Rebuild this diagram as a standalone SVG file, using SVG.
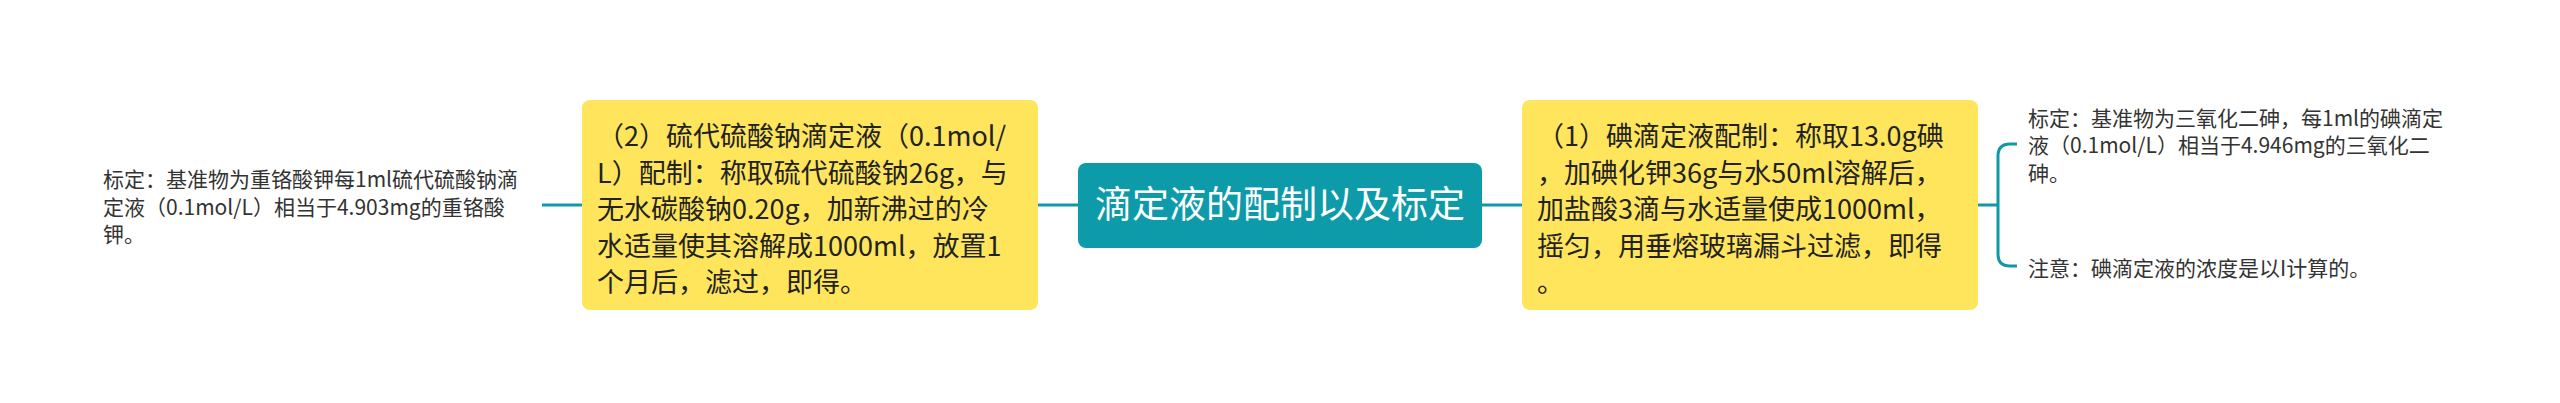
<svg xmlns="http://www.w3.org/2000/svg" width="2560" height="403" viewBox="0 0 2560 403">
<style>
.box{fill:#fee55c}
.root{fill:#0d9ba9}
.bt{font-family:"Noto Sans CJK SC","Microsoft YaHei",sans-serif;font-size:27px;fill:#222}
.st{font-family:"Noto Sans CJK SC","Microsoft YaHei",sans-serif;font-size:21px;fill:#333}
.rt{font-family:"Noto Sans CJK SC","Microsoft YaHei",sans-serif;font-size:37px;fill:#ffffff}
.ln{fill:none;stroke:#1297a7;stroke-width:3}
</style>
<rect width="2560" height="403" fill="#ffffff"/>
<g id="connectors">
<path class="ln" d="M542,205 H582"/>
<path class="ln" d="M1038,205 H1078"/>
<path class="ln" d="M1482,205 H1522"/>
<path class="ln" d="M1978,205 H1998"/>
<path class="ln" d="M2017,144 H2010 Q1998,144 1998,156 V254 Q1998,266 2010,266 H2017"/>
</g>
<g id="root">
<rect class="root" x="1078" y="163" width="404" height="85" rx="8"/>
<text class="rt" x="1280" y="218" text-anchor="middle">滴定液的配制以及标定</text>
</g>
<g id="node-left">
<rect class="box" x="582" y="100" width="456" height="210" rx="8"/>
<text class="bt"><tspan x="597" y="146">（2）硫代硫酸钠滴定液（0.1mol/</tspan><tspan x="597" y="182.5">L）配制：称取硫代硫酸钠26g，与</tspan><tspan x="597" y="219">无水碳酸钠0.20g，加新沸过的冷</tspan><tspan x="597" y="255.5">水适量使其溶解成1000ml，放置1</tspan><tspan x="597" y="292">个月后，滤过，即得。</tspan></text>
</g>
<g id="node-right">
<rect class="box" x="1522" y="100" width="456" height="210" rx="8"/>
<text class="bt"><tspan x="1537" y="146">（1）碘滴定液配制：称取13.0g碘</tspan><tspan x="1537" y="182.5">，加碘化钾36g与水50ml溶解后，</tspan><tspan x="1537" y="219">加盐酸3滴与水适量使成1000ml，</tspan><tspan x="1537" y="255.5">摇匀，用垂熔玻璃漏斗过滤，即得</tspan><tspan x="1537" y="292">。</tspan></text>
</g>
<g id="leaf-left">
<text class="st"><tspan x="103" y="187">标定：基准物为重铬酸钾每1ml硫代硫酸钠滴</tspan><tspan x="103" y="214.7">定液（0.1mol/L）相当于4.903mg的重铬酸</tspan><tspan x="103" y="242.4">钾。</tspan></text>
</g>
<g id="leaf-right-1">
<text class="st"><tspan x="2028" y="125.5">标定：基准物为三氧化二砷，每1ml的碘滴定</tspan><tspan x="2028" y="153">液（0.1mol/L）相当于4.946mg的三氧化二</tspan><tspan x="2028" y="180.5">砷。</tspan></text>
</g>
<g id="leaf-right-2">
<text class="st" x="2028" y="275.5">注意：碘滴定液的浓度是以I计算的。</text>
</g>
</svg>
